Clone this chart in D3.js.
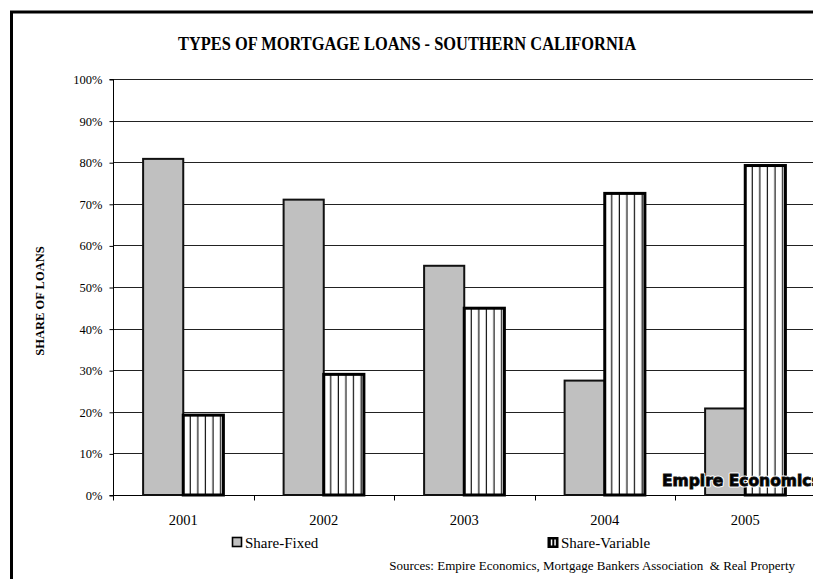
<!DOCTYPE html>
<html>
<head>
<meta charset="utf-8">
<script src="https://cdn.jsdelivr.net/npm/d3@7"></script>
<style>
  html, body { margin: 0; padding: 0; background: #fff; overflow: hidden; }
  svg { display: block; }
  text { font-family: "Liberation Serif", "Times New Roman", serif; fill: #000; }
</style>
</head>
<body>
<svg id="chart" width="813" height="579"></svg>
<script>
// Share of Southern California mortgage loans by type (%)
const years = ["2001", "2002", "2003", "2004", "2005"];
const seriesNames = ["Share-Fixed", "Share-Variable"];
const fixedShare = [80.8, 71.0, 55.1, 27.5, 20.8];
const variableShare = [19.2, 29.0, 44.9, 72.5, 79.2];
const yTicks = [0, 10, 20, 30, 40, 50, 60, 70, 80, 90, 100];

const titleText = "TYPES OF MORTGAGE LOANS - SOUTHERN CALIFORNIA";
const yTitleText = "SHARE OF LOANS";
const sourceText = "Sources: Empire Economics, Mortgage Bankers Association  & Real Property";
const brandText = "Empire Economics";

const W = 813, H = 579;
const plot = { left: 113, top: 79, bottom: 495, right: 815.5 };

const svg = d3.select("#chart");
const defs = svg.append("defs");

// outer frame (left and top edges of the chart border)
svg.append("path")
  .attr("d", `M11.5,${H + 5} L11.5,12 L${W + 5},12`)
  .attr("fill", "none").attr("stroke", "#000").attr("stroke-width", 3);

const x = d3.scaleBand().domain(years).range([plot.left, plot.right]).paddingInner(0).paddingOuter(0);
const xs = d3.scaleBand().domain(seriesNames).range([0, x.bandwidth()]).paddingInner(0).paddingOuter(0.75);
const y = d3.scaleLinear().domain([0, 100]).range([plot.bottom, plot.top]);

// horizontal gridlines
svg.append("g").selectAll("line").data(yTicks.filter(d => d > 0)).join("line")
  .attr("x1", plot.left).attr("x2", W + 5)
  .attr("y1", d => Math.round(y(d)) + 0.5).attr("y2", d => Math.round(y(d)) + 0.5)
  .attr("stroke", "#222").attr("stroke-width", 1);

// y axis
const yAxis = d3.axisLeft(y).tickValues(yTicks).tickFormat(d => d + "%").tickSize(4).tickPadding(7);
const gy = svg.append("g").attr("transform", `translate(${plot.left + 0.5},0.5)`).call(yAxis);
gy.select(".domain").attr("stroke", "#000").attr("d", `M-4,${y(100)}H0V${y(0)}H-4`);
gy.selectAll(".tick line").attr("stroke", "#000");
gy.selectAll(".tick text").style("font-family", "Liberation Serif").style("font-size", "12.5px").attr("fill", "#000");

// x axis
const xAxis = d3.axisBottom(x).tickSize(0).tickPadding(19);
const gx = svg.append("g").attr("transform", `translate(0,${Math.round(plot.bottom) + 0.5})`).call(xAxis);
gx.select(".domain").attr("stroke", "#000").attr("d", `M${plot.left},0H${W + 5}`);
gx.selectAll(".tick text").style("font-family", "Liberation Serif").style("font-size", "14.5px").attr("fill", "#000");
// category boundary ticks
gx.append("g").selectAll("line").data(years).join("line")
  .attr("x1", d => Math.round(x(d)) + 0.5).attr("x2", d => Math.round(x(d)) + 0.5)
  .attr("y1", 0).attr("y2", 5).attr("stroke", "#000");

// fixed bars
svg.append("g").selectAll("rect").data(years).join("rect")
  .attr("x", (d, i) => x(d) + xs("Share-Fixed"))
  .attr("y", (d, i) => y(fixedShare[i]))
  .attr("width", xs.bandwidth())
  .attr("height", (d, i) => y(0) - y(fixedShare[i]))
  .attr("fill", "#c0c0c0").attr("stroke", "#111").attr("stroke-width", 2);

// striped fill for each variable bar, anchored at the bar's left edge
years.forEach((d, i) => {
  const bx = x(d) + xs("Share-Variable");
  const p = defs.append("pattern")
    .attr("id", "stripe-" + i)
    .attr("patternUnits", "userSpaceOnUse")
    .attr("x", bx).attr("y", 0)
    .attr("width", 7.6).attr("height", 10);
  p.append("rect").attr("width", 7.6).attr("height", 10).attr("fill", "#fff");
  p.append("rect").attr("x", 6.4).attr("width", 2).attr("height", 10).attr("fill", "#111");
});

// variable bars
svg.append("g").selectAll("rect").data(years).join("rect")
  .attr("x", (d, i) => x(d) + xs("Share-Variable"))
  .attr("y", (d, i) => y(variableShare[i]))
  .attr("width", xs.bandwidth())
  .attr("height", (d, i) => y(0) - y(variableShare[i]))
  .attr("fill", (d, i) => `url(#stripe-${i})`)
  .attr("stroke", "#000").attr("stroke-width", 3);

// title
svg.append("text").attr("x", 407).attr("y", 50)
  .attr("text-anchor", "middle")
  .attr("textLength", 458).attr("lengthAdjust", "spacingAndGlyphs")
  .style("font-size", "18px").style("font-weight", "bold")
  .text(titleText);

// y axis title
svg.append("text")
  .attr("transform", `translate(44,${(plot.top + plot.bottom) / 2 + 14}) rotate(-90)`)
  .attr("text-anchor", "middle")
  .style("font-size", "12.5px").style("font-weight", "bold")
  .text(yTitleText);

// legend
const legend = svg.append("g");
legend.append("rect").attr("x", 232.5).attr("y", 537.5).attr("width", 9).attr("height", 9)
  .attr("fill", "#c0c0c0").attr("stroke", "#000").attr("stroke-width", 1.6);
legend.append("text").attr("x", 245).attr("y", 548).style("font-size", "15px").text(seriesNames[0]);
legend.append("rect").attr("x", 547.5).attr("y", 537).attr("width", 11).attr("height", 11).attr("fill", "#000");
legend.append("rect").attr("x", 550.8).attr("y", 539.5).attr("width", 1.5).attr("height", 6).attr("fill", "#fff");
legend.append("rect").attr("x", 554.3).attr("y", 539.5).attr("width", 1.5).attr("height", 6).attr("fill", "#fff");
legend.append("text").attr("x", 561).attr("y", 548).style("font-size", "15px").text(seriesNames[1]);

// sources note
svg.append("text").attr("x", 795).attr("y", 570).attr("text-anchor", "end")
  .attr("xml:space", "preserve").style("white-space", "pre")
  .style("font-size", "13px").text(sourceText);

// brand mark
const brand = svg.append("g").attr("transform", "translate(662,486)");
brand.append("text").text(brandText)
  .style("font-family", "DejaVu Sans").style("font-weight", "bold").style("font-size", "15.5px")
  .attr("fill", "none").attr("stroke", "#fff").attr("stroke-width", 3).attr("stroke-linejoin", "round");
brand.append("text").text(brandText)
  .style("font-family", "DejaVu Sans").style("font-weight", "bold").style("font-size", "15.5px")
  .attr("fill", "#9a9a9a").attr("stroke", "#111").attr("stroke-width", 0.9);
</script>
</body>
</html>
